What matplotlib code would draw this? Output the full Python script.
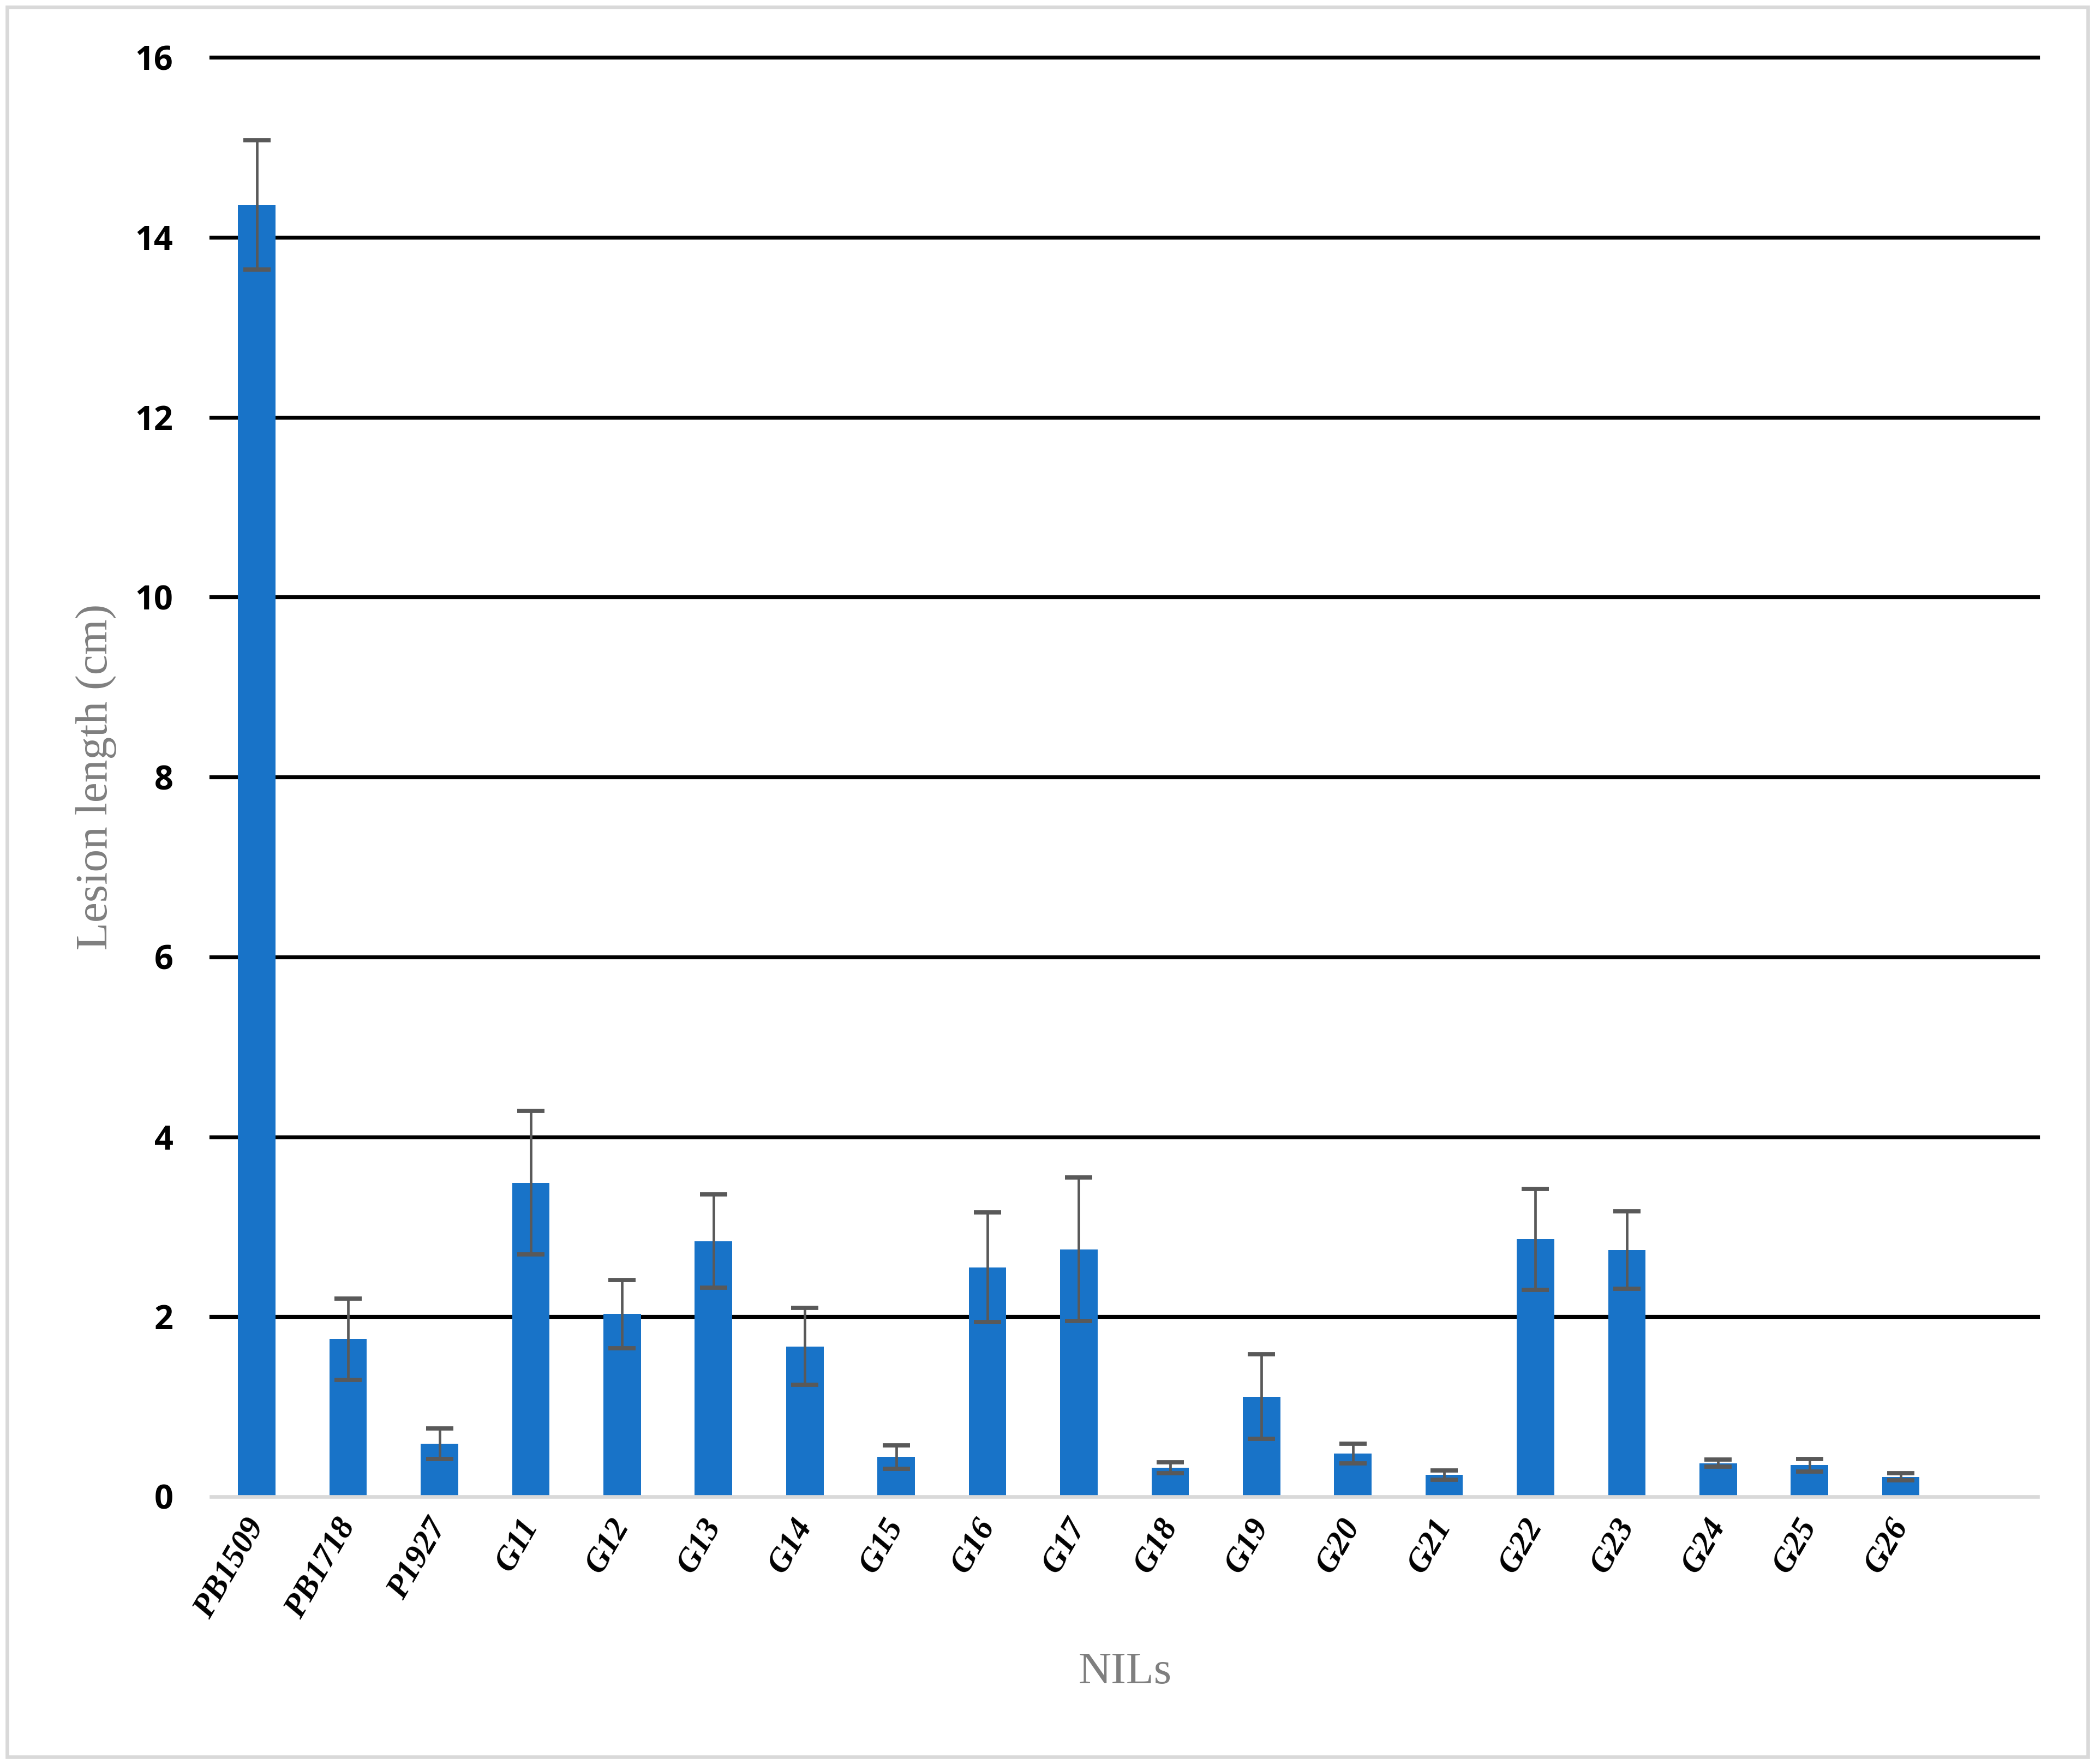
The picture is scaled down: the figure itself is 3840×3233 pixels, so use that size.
import matplotlib
matplotlib.use("Agg")
from matplotlib import pyplot as plt
from matplotlib.patches import Rectangle
import numpy as np

## data
nils = ["PB1509", "PB1718", "P1927", "G11", "G12", "G13", "G14", "G15", "G16",
        "G17", "G18", "G19", "G20", "G21", "G22", "G23", "G24", "G25", "G26"]
lesion_mean = [14.36, 1.75, 0.59, 3.49, 2.03, 2.84, 1.67, 0.44, 2.55,
               2.75, 0.32, 1.11, 0.48, 0.24, 2.86, 2.74, 0.37, 0.35, 0.22]
lesion_err = [0.72, 0.45, 0.17, 0.80, 0.38, 0.52, 0.43, 0.13, 0.61,
              0.80, 0.06, 0.47, 0.11, 0.05, 0.56, 0.43, 0.04, 0.07, 0.04]
y_ticks = [0, 2, 4, 6, 8, 10, 12, 14, 16]

bar_color = "#1873C8"
err_color = "#595959"
title_color = "#7f7f7f"
frame_color = "#d9d9d9"

fig = plt.figure(figsize=(19.2, 16.165), dpi=200)
ax = fig.add_axes([0.1008, 0.1516, 0.8719, 0.8158])

x = np.arange(len(nils))
ax.bar(x, lesion_mean, width=0.41, color=bar_color, zorder=2)
ax.errorbar(x, lesion_mean, yerr=lesion_err, fmt="none", ecolor=err_color,
            elinewidth=1.7, capsize=9, capthick=2.8, zorder=3)

ax.set_xlim(-0.5, len(nils) + 0.5)
ax.set_ylim(0, 16)

# black gridlines (except at zero, where the grey axis line sits)
for yv in y_ticks[1:]:
    ax.axhline(yv, color="black", lw=2.6, zorder=1, clip_on=False)

for side in ["top", "right", "left"]:
    ax.spines[side].set_visible(False)
ax.spines["bottom"].set_color(frame_color)
ax.spines["bottom"].set_linewidth(2.4)
ax.spines["bottom"].set_zorder(4)

ax.set_yticks(y_ticks)
ax.set_yticklabels([str(v) for v in y_ticks], fontfamily="Open Sans",
                   fontweight="bold", fontsize=22)
ax.tick_params(axis="y", length=0, pad=25)

ax.set_xticks(x)
ax.set_xticklabels(nils, rotation=60, ha="right", va="center",
                   rotation_mode="anchor", fontfamily="Liberation Serif",
                   fontweight="bold", fontstyle="italic", fontsize=22)
ax.tick_params(axis="x", length=0, pad=16)

fig.text(0.046, 0.5595, "Lesion length (cm)", rotation=90, ha="center", va="center",
         color=title_color, fontfamily="Liberation Serif", fontsize=30)
fig.text(0.537, 0.052, "NILs", ha="center", va="center",
         color=title_color, fontfamily="Liberation Serif", fontsize=30)

# light grey frame around the whole chart
fig.patches.append(Rectangle((0.0035, 0.004), 0.993, 0.992, transform=fig.transFigure,
                             fill=False, edgecolor=frame_color, lw=2.4))

fig.savefig("out.png", dpi=200, facecolor="white")
